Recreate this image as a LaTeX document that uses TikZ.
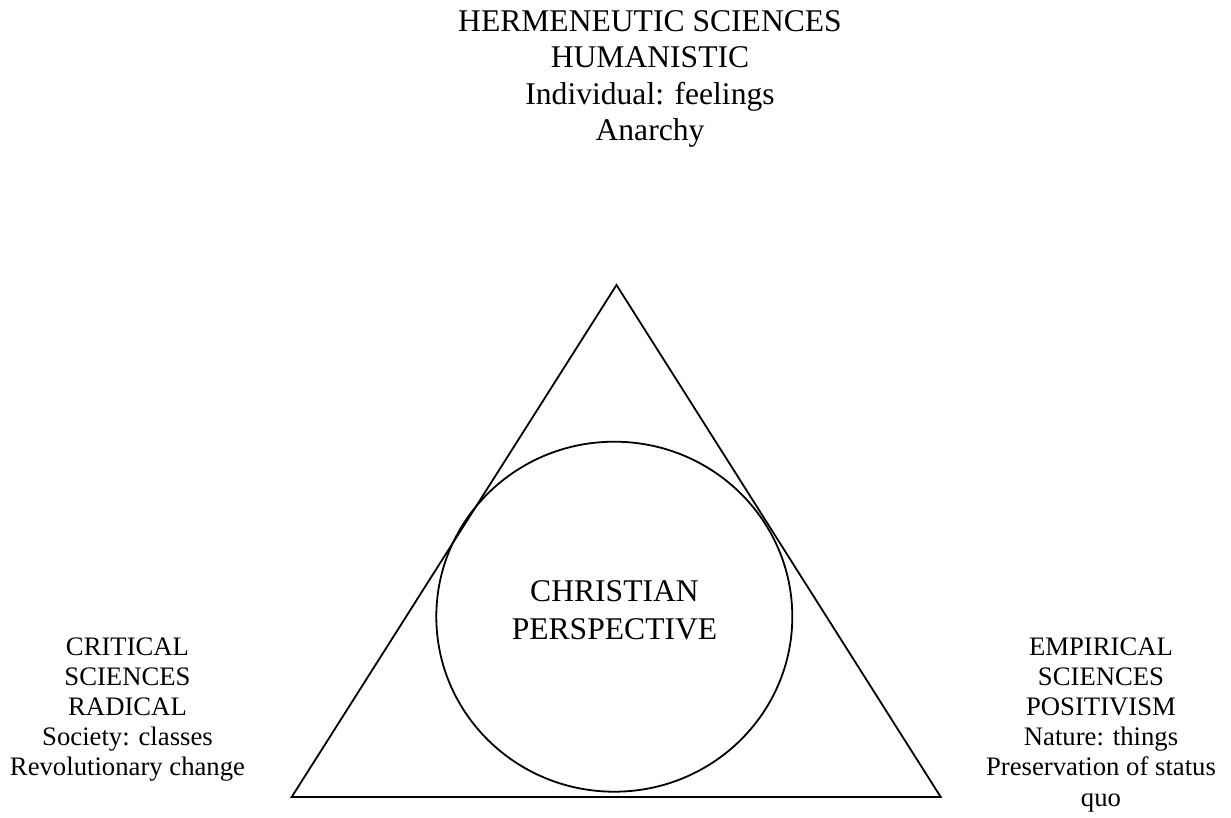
\documentclass[tikz,border=0pt]{standalone}
\usepackage{fontspec}
\setmainfont{Liberation Serif}
\usetikzlibrary{shapes.geometric}
\begin{document}
\begin{tikzpicture}[x=1pt,y=-1pt,
  shape line/.style={line width=1.8pt, line join=miter},
  bigtext/.style={inner sep=0pt, align=center, anchor=base, font=\fontsize{31.6}{36.2}\selectfont},
  centertext/.style={inner sep=0pt, align=center, anchor=base, font=\fontsize{31.6}{38}\selectfont},
  sidetext/.style={inner sep=0pt, align=center, anchor=base, font=\fontsize{26.7}{30.2}\selectfont}]
\useasboundingbox (0,0) rectangle (1231,818);
\coordinate (apex) at (616.5,285);
\coordinate (bl) at (291.7,797);
\coordinate (br) at (940.7,797);
\draw[shape line] (apex) -- (bl) -- (br) -- cycle;
\node[draw, shape line, ellipse, inner sep=0pt, minimum width=356pt, minimum height=350pt] (circ) at (614.3,616.7) {};
% base anchor of a multi-line node = baseline of its last line
\node[centertext] (center) at (614.5,639.7) {CHRISTIAN\\PERSPECTIVE};
\node[bigtext] (top) at (650,140.3) {HERMENEUTIC SCIENCES\\HUMANISTIC\\Individual: feelings\\Anarchy};
\node[sidetext] (left) at (127.5,775.8) {CRITICAL\\SCIENCES\\RADICAL\\Society: classes\\Revolutionary change};
\node[sidetext] (right) at (1101,806) {EMPIRICAL\\SCIENCES\\POSITIVISM\\Nature: things\\Preservation of status\\quo};
\end{tikzpicture}
\end{document}
